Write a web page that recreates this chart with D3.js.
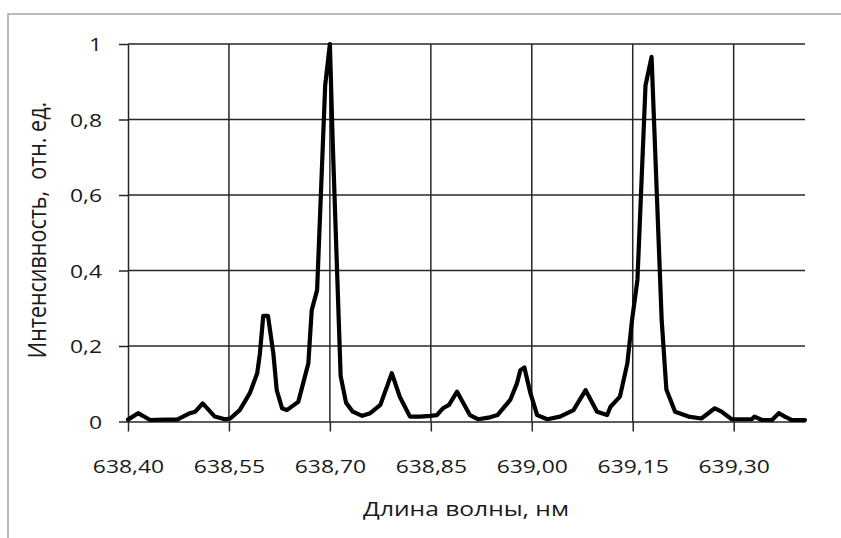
<!DOCTYPE html>
<html>
<head>
<meta charset="utf-8">
<script src="https://cdn.jsdelivr.net/npm/d3@7"></script>
<style>
  body { margin: 0; background: #fff; }
  text { font-family: "Open Sans", sans-serif; fill: #1a1a1a; }
</style>
</head>
<body>
<div id="chart"></div>
<script>
// wavelength (nm) and relative intensity
const wavelength = [638.400, 638.415, 638.433, 638.455, 638.473, 638.492, 638.500, 638.511, 638.529, 638.544,
  638.552, 638.566, 638.581, 638.592, 638.596, 638.601, 638.608, 638.616, 638.621, 638.629,
  638.636, 638.653, 638.668, 638.673, 638.681, 638.693, 638.700, 638.704, 638.716, 638.724,
  638.734, 638.748, 638.760, 638.775, 638.792, 638.804, 638.819, 638.834, 638.849, 638.859,
  638.868, 638.877, 638.889, 638.908, 638.920, 638.938, 638.949, 638.968, 638.978, 638.983,
  638.989, 638.998, 639.008, 639.023, 639.042, 639.062, 639.080, 639.097, 639.112, 639.117,
  639.131, 639.142, 639.149, 639.157, 639.169, 639.178, 639.193, 639.200, 639.213, 639.233,
  639.252, 639.272, 639.282, 639.297, 639.327, 639.331, 639.342, 639.357, 639.367, 639.376,
  639.386, 639.406];
const intensity = [0.005, 0.022, 0.004, 0.005, 0.005, 0.022, 0.026, 0.048, 0.013, 0.006,
  0.008, 0.030, 0.075, 0.128, 0.180, 0.280, 0.280, 0.180, 0.083, 0.035,
  0.030, 0.052, 0.154, 0.295, 0.348, 0.890, 1.000, 0.750, 0.120, 0.050,
  0.026, 0.015, 0.022, 0.044, 0.128, 0.065, 0.013, 0.013, 0.015, 0.017,
  0.035, 0.044, 0.079, 0.017, 0.006, 0.011, 0.017, 0.057, 0.101, 0.136,
  0.143, 0.075, 0.017, 0.006, 0.013, 0.030, 0.083, 0.026, 0.017, 0.039,
  0.066, 0.154, 0.269, 0.375, 0.890, 0.966, 0.270, 0.085, 0.026, 0.013,
  0.008, 0.035, 0.026, 0.006, 0.006, 0.013, 0.004, 0.004, 0.022, 0.013,
  0.004, 0.004];

const xTicks = [638.40, 638.55, 638.70, 638.85, 639.00, 639.15, 639.30];
const yTicks = [0, 0.2, 0.4, 0.6, 0.8, 1];
const xTickLabels = ["638,40", "638,55", "638,70", "638,85", "639,00", "639,15", "639,30"];
const yTickLabels = ["0", "0,2", "0,4", "0,6", "0,8", "1"];

const width = 841, height = 538;
const plotLeft = 128, plotRight = 805, plotTop = 44, plotBottom = 421.5;
const sx = 1.23; // text is horizontally stretched in the source

const svg = d3.select("#chart").append("svg")
  .attr("width", width)
  .attr("height", height);

// outer frame
svg.append("rect")
  .attr("x", 8).attr("y", 14)
  .attr("width", 900).attr("height", 600)
  .attr("fill", "none")
  .attr("stroke", "#a6a6a6")
  .attr("stroke-width", 1.5);

const x = d3.scaleLinear().domain([638.40, 639.406]).range([plotLeft, plotRight]);
const y = d3.scaleLinear().domain([0, 1]).range([plotBottom, plotTop]);

// grid
svg.append("g").selectAll("line")
  .data(yTicks.slice(1))
  .enter().append("line")
  .attr("x1", plotLeft).attr("x2", plotRight)
  .attr("y1", d => y(d)).attr("y2", d => y(d))
  .attr("stroke", "#262626").attr("stroke-width", 1.5);

svg.append("g").selectAll("line")
  .data(xTicks.slice(1))
  .enter().append("line")
  .attr("x1", d => x(d)).attr("x2", d => x(d))
  .attr("y1", y(0)).attr("y2", y(1))
  .attr("stroke", "#262626").attr("stroke-width", 1.5);

// x axis
const xAxis = svg.append("g")
  .attr("transform", `translate(0,${plotBottom})`)
  .call(d3.axisBottom(x).tickValues(xTicks).tickSize(10).tickSizeOuter(0)
    .tickFormat((d, i) => xTickLabels[i]));

// y axis
const yAxis = svg.append("g")
  .attr("transform", `translate(${plotLeft},0)`)
  .call(d3.axisLeft(y).tickValues(yTicks).tickSize(9).tickSizeOuter(0)
    .tickFormat((d, i) => yTickLabels[i]));

[xAxis, yAxis].forEach(g => {
  g.select(".domain").attr("stroke", "#262626").attr("stroke-width", 1.5);
  g.selectAll(".tick line").attr("stroke", "#262626").attr("stroke-width", 1.5);
  g.selectAll("text").attr("fill", "#1a1a1a").style("font-size", "18.6px");
});

xAxis.selectAll("text")
  .attr("y", 51.5).attr("dy", null)
  .attr("transform", `scale(${sx},1)`);

yAxis.selectAll("text")
  .attr("x", -26 / sx).attr("dy", "0.36em")
  .attr("transform", `scale(${sx},1)`);

// axis titles
svg.append("text")
  .attr("transform", `translate(466,516) scale(${sx},1)`)
  .attr("text-anchor", "middle")
  .style("font-size", "20px")
  .text("Длина волны, нм");

svg.append("text")
  .attr("transform", `translate(46,230) scale(1.15,1) rotate(-90)`)
  .attr("text-anchor", "middle")
  .style("font-size", "21.5px")
  .style("white-space", "pre")
  .text("Интенсивность,  отн. ед.");

// spectrum line
const line = d3.line()
  .x((d, i) => x(wavelength[i]))
  .y(d => y(d));

svg.append("path")
  .datum(intensity)
  .attr("d", line)
  .attr("fill", "none")
  .attr("stroke", "#000")
  .attr("stroke-width", 4.2)
  .attr("stroke-linejoin", "round")
  .attr("stroke-linecap", "round");
</script>
</body>
</html>
